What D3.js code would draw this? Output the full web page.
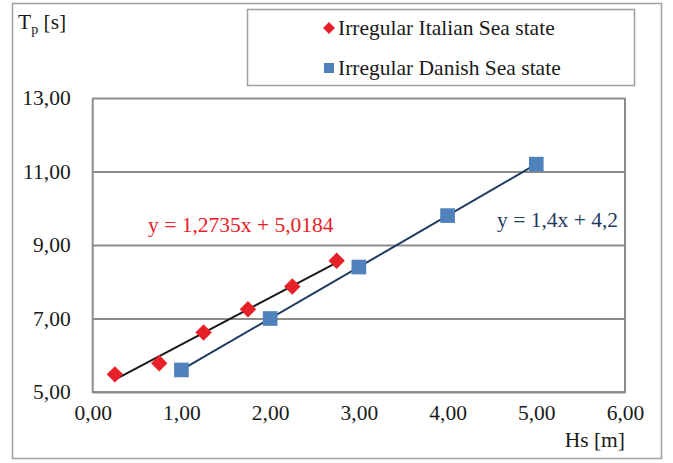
<!DOCTYPE html>
<html><head><meta charset="utf-8">
<script src="https://cdn.jsdelivr.net/npm/d3@7"></script>
<style>body{margin:0;background:#fff}svg{display:block}</style>
</head><body><svg id="c" width="673" height="463"></svg>
<script>
const italianHs = [0.25, 0.75, 1.25, 1.75, 2.25, 2.75];
const italianTp = [5.48, 5.78, 6.62, 7.25, 7.87, 8.57];
const danishHs = [1, 2, 3, 4, 5];
const danishTp = [5.6, 7.0, 8.4, 9.8, 11.2];
const italianFit = [1.2735, 5.0184];
const danishFit = [1.4, 4.2];
const xTicks = [0, 1, 2, 3, 4, 5, 6];
const yTicks = [5, 7, 9, 11, 13];
const seriesNames = ["Irregular Italian Sea state", "Irregular Danish Sea state"];
const eqLabels = ["y = 1,2735x + 5,0184", "y = 1,4x + 4,2"];

const FONT = "Liberation Serif";
const FS = 21.5;
const svg = d3.select("#c");
const x = d3.scaleLinear().domain([0, 6]).range([92.7, 625]);
const y = d3.scaleLinear().domain([5, 13]).range([392, 98]);
const fmt = v => d3.format(".2f")(v).replace(".", ",");
const red = "#e8202a", blue = "#4f81bd", navy = "#1f3a60", grid = "#8c8c8c";

// outer border
svg.append("rect").attr("x", 12.5).attr("y", 3.5).attr("width", 649).attr("height", 455)
  .attr("fill", "none").attr("stroke", "#a0a0a0").attr("stroke-width", 1.5);

// grid
const gY = svg.append("g").attr("transform", `translate(${x(0)},0)`)
  .call(d3.axisLeft(y).tickValues(yTicks).tickSize(-(x(6) - x(0))).tickFormat(fmt).tickPadding(22));
gY.select(".domain").remove();
gY.selectAll("line").attr("stroke", grid).attr("stroke-width", 2);
gY.selectAll("text").style("font-family", FONT).style("font-size", FS + "px").attr("fill", "#1a1a1a");

// plot frame (left, bottom, right)
svg.append("path")
  .attr("d", `M${x(0)},${y(13)}V${y(5)}H${x(6)}V${y(13)}`)
  .attr("fill", "none").attr("stroke", grid).attr("stroke-width", 2);

const gX = svg.append("g").attr("transform", `translate(0,${y(5)})`)
  .call(d3.axisBottom(x).tickValues(xTicks).tickSize(0).tickFormat(fmt).tickPadding(13));
gX.select(".domain").remove();
gX.selectAll("text").style("font-family", FONT).style("font-size", FS + "px").attr("fill", "#1a1a1a");

// trendlines
const line = d3.line().x(d => x(d[0])).y(d => y(d[1]));
const ext1 = d3.extent(italianHs), ext2 = d3.extent(danishHs);
svg.append("path").attr("d", line(ext1.map(v => [v, italianFit[0] * v + italianFit[1]])))
  .attr("stroke", "#1a1a1a").attr("stroke-width", 2).attr("fill", "none");
svg.append("path").attr("d", line(ext2.map(v => [v, danishFit[0] * v + danishFit[1]])))
  .attr("stroke", navy).attr("stroke-width", 2).attr("fill", "none");

// markers
const diamond = d3.symbol().type(d3.symbolSquare).size(135);
svg.append("g").selectAll("path").data(italianHs.map((h, i) => [h, italianTp[i]])).join("path")
  .attr("d", diamond).attr("transform", d => `translate(${x(d[0])},${y(d[1])}) rotate(45)`)
  .attr("fill", red);
const sq = d3.symbol().type(d3.symbolSquare).size(215);
svg.append("g").selectAll("path").data(danishHs.map((h, i) => [h, danishTp[i]])).join("path")
  .attr("d", sq).attr("transform", d => `translate(${x(d[0])},${y(d[1])})`)
  .attr("fill", blue);

function txt(xp, yp, s, color, anchor) {
  return svg.append("text").attr("x", xp).attr("y", yp).attr("text-anchor", anchor || "start")
    .style("font-family", FONT).style("font-size", FS + "px").attr("fill", color).text(s);
}
// equations
txt(148, 232, eqLabels[0], red);
txt(497, 227, eqLabels[1], navy);

// axis titles
const tp = svg.append("text").attr("x", 18).attr("y", 29).style("font-family", FONT).style("font-size", FS + "px").attr("fill", "#1a1a1a");
tp.append("tspan").text("T");
tp.append("tspan").style("font-size", "14px").attr("dy", 5).text("p");
tp.append("tspan").attr("dy", -5).text(" [s]");
txt(625, 447, "Hs [m]", "#1a1a1a", "end");

// legend
svg.append("rect").attr("x", 247.5).attr("y", 9.5).attr("width", 387).attr("height", 76)
  .attr("fill", "#fff").attr("stroke", "#a0a0a0").attr("stroke-width", 1.5);
svg.append("path").attr("d", d3.symbol().type(d3.symbolSquare).size(70)).attr("transform", "translate(329,28) rotate(45)").attr("fill", red);
svg.append("path").attr("d", d3.symbol().type(d3.symbolSquare).size(100)).attr("transform", "translate(329,68)").attr("fill", blue);
txt(338, 35, seriesNames[0], "#1a1a1a");
txt(338, 75, seriesNames[1], "#1a1a1a");
</script></body></html>
